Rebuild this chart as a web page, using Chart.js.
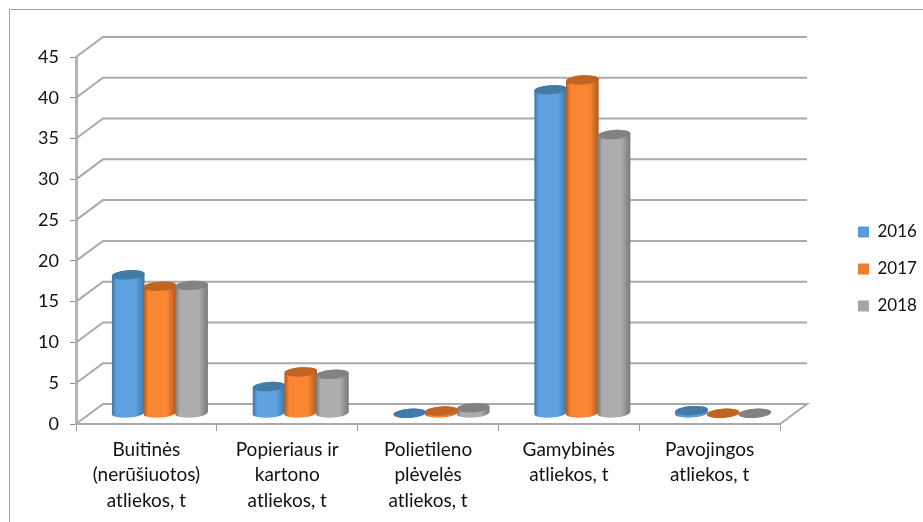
<!DOCTYPE html>
<html>
<head>
<meta charset="utf-8">
<style>
  body { margin: 0; background: #fff; }
</style>
<script src="https://cdn.jsdelivr.net/npm/chart.js@4/dist/chart.umd.js"></script>
</head>
<body>
<canvas id="myChart" width="923" height="522"></canvas>
<script>
let labels = [
    ['Buitinės', '(nerūšiuotos)', 'atliekos, t'],
    ['Popieriaus ir', 'kartono', 'atliekos, t'],
    ['Polietileno', 'plėvelės', 'atliekos, t'],
    ['Gamybinės', 'atliekos, t'],
    ['Pavojingos', 'atliekos, t']
];
let years = ['2016', '2017', '2018'];
let data2016 = [17.0, 3.3, 0.02, 39.7, 0.35];
let data2017 = [15.6, 5.1, 0.3, 40.9, 0.02];
let data2018 = [15.7, 4.8, 0.7, 34.2, 0.02];
let flatColors = ['#5b9bd5', '#ed7d31', '#a5a5a5'];
let bodyColors = ['#5ea2e0', '#fa8532', '#adadad'];
let sideColors = ['#3f74a6', '#ad5a1f', '#787878'];
let capColors = ['#437ba8', '#c0641f', '#828282'];

let depthX = 27, depthY = -20;
let font = "Lato, Carlito, sans-serif";

// back wall lines + the floor, they sit behind the columns
let wallPlugin = {
    id: 'wall',
    beforeDraw: function(chart) {
        let ctx = chart.ctx;
        ctx.save();
        ctx.strokeStyle = '#a0a0a0';
        ctx.lineWidth = 1;
        ctx.beginPath();
        ctx.moveTo(9.5, 522);
        ctx.lineTo(9.5, 9.5);
        ctx.lineTo(923, 9.5);
        ctx.stroke();
        ctx.restore();
    },
    beforeDatasetsDraw: function(chart) {
        let ctx = chart.ctx, y = chart.scales.y, area = chart.chartArea;
        ctx.save();
        ctx.strokeStyle = '#aaaaaa';
        ctx.lineWidth = 2;
        y.ticks.forEach(function(t) {
            let py = y.getPixelForValue(t.value);
            ctx.beginPath();
            ctx.moveTo(area.left, py);
            ctx.lineTo(area.left + depthX, py + depthY);
            ctx.lineTo(area.right + depthX, py + depthY);
            if (t.value === 0) ctx.lineTo(area.right, py);
            ctx.stroke();
        });
        ctx.restore();
    }
};

// columns get drawn here from the bar elements, first year first so the next one overlaps it
let cylinderPlugin = {
    id: 'cylinders',
    beforeDatasetsDraw: function(chart) {
        let ctx = chart.ctx;
        let rot = -0.07, ry = 4.6, shiftX = 13.5, shiftY = -10.5;
        ctx.save();
        ctx.translate(shiftX, shiftY);
        chart.data.datasets.forEach(function(ds, i) {
            chart.getDatasetMeta(i).data.forEach(function(bar) {
                let rx = bar.width / 2 + 0.5;
                let grad = ctx.createLinearGradient(bar.x - rx, 0, bar.x + rx, 0);
                grad.addColorStop(0, sideColors[i]);
                grad.addColorStop(0.14, bodyColors[i]);
                grad.addColorStop(0.72, bodyColors[i]);
                grad.addColorStop(1, sideColors[i]);
                ctx.fillStyle = grad;
                ctx.beginPath();
                ctx.ellipse(bar.x, bar.base, rx, ry, rot, 0, Math.PI);
                ctx.ellipse(bar.x, bar.y, rx, ry, rot, Math.PI, Math.PI * 2);
                ctx.closePath();
                ctx.fill();
                ctx.fillStyle = capColors[i];
                ctx.beginPath();
                ctx.ellipse(bar.x, bar.y, rx, ry, rot, 0, Math.PI * 2);
                ctx.fill();
            });
        });
        ctx.restore();
        return false;
    }
};

// puts the legend where the reference has it, right of the wall
let legendPlugin = {
    id: 'legendSpot',
    afterLayout: function(chart) {
        let l = chart.legend;
        l.left = 838;
        l.right = 923;
        l.top = 106;
        l.bottom = 432;
    }
};

new Chart(document.getElementById('myChart').getContext('2d'), {
    type: 'bar',
    data: {
        labels: labels,
        datasets: [
            { label: years[0], data: data2016, backgroundColor: flatColors[0] },
            { label: years[1], data: data2017, backgroundColor: flatColors[1] },
            { label: years[2], data: data2018, backgroundColor: flatColors[2] }
        ]
    },
    options: {
        responsive: false,
        animation: false,
        devicePixelRatio: 1,
        categoryPercentage: 0.675,
        barPercentage: 1,
        layout: { padding: { left: 0, top: 57, right: 54, bottom: 0 } },
        plugins: {
            tooltip: { enabled: false },
            legend: {
                position: 'right',
                labels: {
                    boxWidth: 11,
                    boxHeight: 11,
                    padding: 20,
                    color: '#111111',
                    font: { family: font, size: 17 }
                }
            }
        },
        scales: {
            x: {
                afterFit: function(s) { s.height = 98; },
                grid: { drawOnChartArea: false, tickLength: 7, tickColor: '#a0a0a0', offset: true },
                border: { color: '#aaaaaa', width: 2 },
                ticks: {
                    maxRotation: 0,
                    autoSkip: false,
                    padding: 6,
                    color: '#111111',
                    font: { family: font, size: 19, lineHeight: 1.34 }
                }
            },
            y: {
                min: 0,
                max: 45,
                afterFit: function(s) { s.width = 76; },
                grid: { drawOnChartArea: false, tickLength: 6, tickColor: '#8c8c8c' },
                border: { color: '#b4b4b4', width: 3 },
                ticks: {
                    stepSize: 5,
                    padding: 11,
                    color: '#111111',
                    font: { family: font, size: 18 }
                }
            }
        }
    },
    plugins: [wallPlugin, cylinderPlugin, legendPlugin]
});
</script>
</body>
</html>
